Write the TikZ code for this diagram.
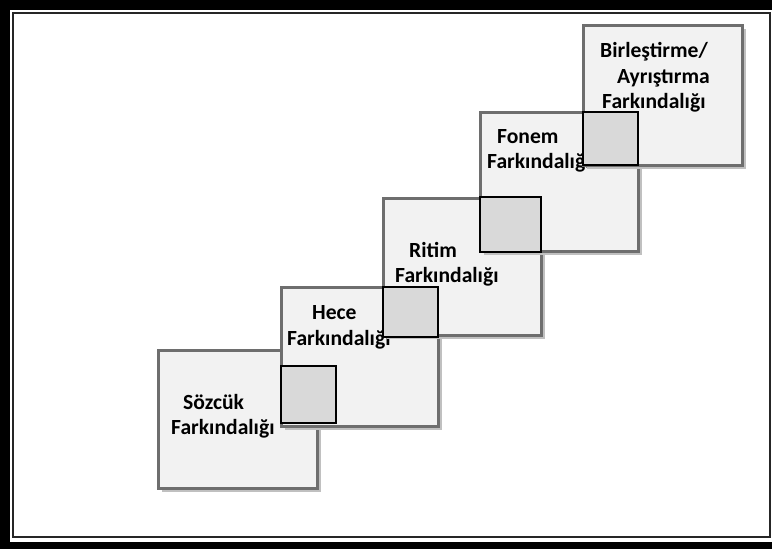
\documentclass[tikz,border=0pt]{standalone}
\usepackage{fontspec}
\setmainfont{Carlito}
\definecolor{boxfill}{HTML}{F2F2F2}
\definecolor{boxline}{HTML}{6E6E6E}
\definecolor{shadowc}{HTML}{C0C0C0}
\definecolor{sqfill}{HTML}{D9D9D9}
\begin{document}
\begin{tikzpicture}[x=1pt,y=-1pt,
  stepbox/.style={fill=boxfill,draw=boxline,line width=3pt},
  shadowbox/.style={fill=shadowc},
  sq/.style={fill=sqfill,draw=black,line width=1.8pt},
  lbl/.style={anchor=base west,inner sep=0pt,font=\fontsize{21.6}{25}\selectfont\bfseries}]
\useasboundingbox (0,0) rectangle (772,549);
% frame
\fill[white] (0,0) rectangle (772,549);
\fill[black] (0,0) rectangle (10,549);
\fill[black] (0,0) rectangle (772,10);
\fill[black] (0,542) rectangle (772,549);
\draw[black!85,line width=2pt] (13,13) rectangle (770,537);
% box 1
\fill[shadowbox] (162,354) rectangle (321,492);
\draw[stepbox] (158,350) rectangle (317,488);
\node[lbl] (t1a) at (183,409) {Sözcük};
\node[lbl] (t1b) at (171,434) {Farkındalığı};
% box 2
\fill[shadowbox] (285,291) rectangle (442,430);
\draw[stepbox] (281,287) rectangle (438,426);
\node[lbl] (t2a) at (312,319) {Hece};
\node[lbl] (t2b) at (287,345) {Farkındalığı};
\draw[sq] (281,366) rectangle (336,423);
% box 3
\fill[shadowbox] (387,202) rectangle (545,339);
\draw[stepbox] (383,198) rectangle (541,335);
\node[lbl] (t3a) at (409,257) {Ritim};
\node[lbl] (t3b) at (395,282) {Farkındalığı};
\draw[sq] (383,287) rectangle (438,337);
% box 4
\fill[shadowbox] (484,116) rectangle (642,255);
\draw[stepbox] (480,112) rectangle (638,251);
\node[lbl] (t4a) at (497,143) {Fonem};
\node[lbl] (t4b) at (487,168) {Farkındalığı};
\draw[sq] (480,197) rectangle (541,252);
% box 5
\fill[shadowbox] (587,29) rectangle (746,169);
\draw[stepbox] (583,25) rectangle (742,165);
\node[lbl] (t5a) at (600,57) {Birleştirme/};
\node[lbl] (t5b) at (617,83) {Ayrıştırma};
\node[lbl] (t5c) at (602,108) {Farkındalığı};
\draw[sq] (583,112) rectangle (638,165);
\end{tikzpicture}
\end{document}
